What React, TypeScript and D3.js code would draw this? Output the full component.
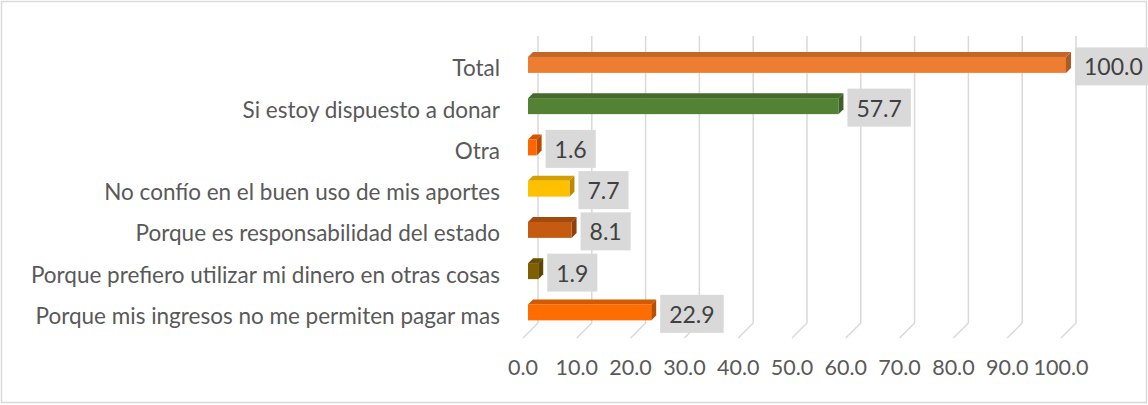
import React, { useEffect, useRef } from "react";
import * as d3 from "d3";

const categories: string[] = [
  "Total",
  "Si estoy dispuesto a donar",
  "Otra",
  "No confío en el buen uso de mis aportes",
  "Porque es responsabilidad del estado",
  "Porque prefiero utilizar mi dinero en otras cosas",
  "Porque mis ingresos no me permiten pagar mas",
];
const values: number[] = [100.0, 57.7, 1.6, 7.7, 8.1, 1.9, 22.9];
const barColors: string[] = ["#ED7D31", "#548235", "#FF6600", "#FFC000", "#C55A11", "#7F6000", "#FF6D01"];
const ticks: number[] = [0, 10, 20, 30, 40, 50, 60, 70, 80, 90, 100];

const W = 1148;
const H = 405;
const FONT = "Lato, 'Open Sans', sans-serif";
const TEXT = "#595959";

export default function App() {
  const ref = useRef<SVGSVGElement>(null);

  useEffect(() => {
    const svg = d3.select(ref.current);
    svg.selectAll("*").remove();

    svg.append("rect").attr("x", 1.5).attr("y", 1.5).attr("width", W - 3).attr("height", H - 4)
      .attr("fill", "#fff").attr("stroke", "#d9d9d9").attr("stroke-width", 1.5);

    const x = d3.scaleLinear().domain([0, 100]).range([538, 1076]);
    const y = d3.scaleBand<string>().domain(categories).range([34.25, 323]);
    const FLOOR = 323;
    const DEPTH = 15;

    const g = svg.append("g");
    ticks.forEach((t) => {
      g.append("line").attr("x1", x(t)).attr("x2", x(t)).attr("y1", 36).attr("y2", FLOOR)
        .attr("stroke", "#d9d9d9").attr("stroke-width", 1.5);
      g.append("line").attr("x1", x(t)).attr("x2", x(t) - DEPTH).attr("y1", FLOOR).attr("y2", FLOOR + DEPTH)
        .attr("stroke", "#d9d9d9").attr("stroke-width", 1.5);
      g.append("text").attr("x", x(t) - DEPTH).attr("y", 367).attr("text-anchor", "middle")
        .attr("dominant-baseline", "central").attr("font-family", FONT).attr("font-size", 21.5)
        .attr("fill", TEXT).text(d3.format(".1f")(t));
    });

    categories.forEach((c, i) => {
      const v = values[i];
      const cy = (y(c) as number) + y.bandwidth() / 2;
      const x0 = x(0);
      const xv = x(v);
      const col = d3.color(barColors[i])!;
      const top = col.darker(0.55).toString();
      const side = col.darker(0.9).toString();
      const fy = cy + 10;
      const h = 8;
      g.append("polygon")
        .attr("points", [[x0 - 10, fy - h], [x0 - 5, fy - h - 5], [xv - 5, fy - h - 5], [xv - 10, fy - h]].map((p) => p.join(",")).join(" "))
        .attr("fill", top);
      g.append("polygon")
        .attr("points", [[xv - 10, fy - h], [xv - 5, fy - h - 5], [xv - 5, fy + h - 5], [xv - 10, fy + h]].map((p) => p.join(",")).join(" "))
        .attr("fill", side);
      g.append("rect").attr("x", x0 - 10).attr("y", fy - h).attr("width", Math.max(0, xv - x0)).attr("height", 2 * h)
        .attr("fill", barColors[i]);

      g.append("text").attr("x", 500).attr("y", fy + 3).attr("text-anchor", "end").attr("dominant-baseline", "central")
        .attr("font-family", FONT).attr("font-size", 22.5).attr("fill", TEXT).text(c);

      const lg = g.append("g");
      const rect = lg.append("rect").attr("fill", "#d9d9d9");
      const tx = lg.append("text").attr("y", fy + 1.5).attr("dominant-baseline", "central")
        .attr("font-family", FONT).attr("font-size", 23).attr("fill", "#404040").text(d3.format(".1f")(v));
      const tw = (tx.node() as SVGTextElement).getComputedTextLength();
      const bx = xv - 1;
      const bw = tw + 18;
      rect.attr("x", bx).attr("y", fy + 1.5 - 19).attr("width", bw).attr("height", 38);
      tx.attr("x", bx + 9);
    });
  }, []);

  return (
    <svg ref={ref} width={W} height={H} style={{ position: "absolute", left: 0, top: 0 }} />
  );
}
